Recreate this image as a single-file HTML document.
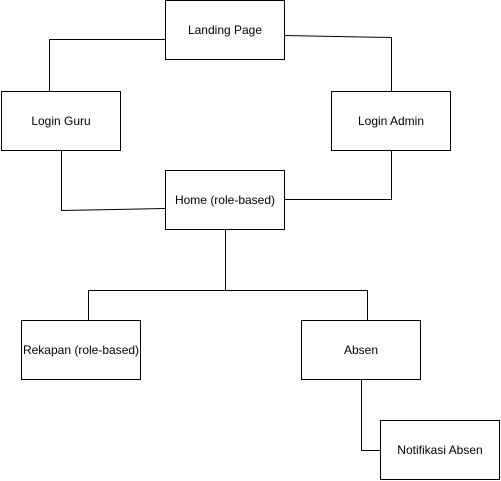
<!DOCTYPE html>
<html><head><style>
body{margin:0;width:501px;height:481px;background:#fff;overflow:hidden}
svg{display:block}
text{font-family:"Liberation Sans",sans-serif;font-size:12px;fill:#000}
</style></head><body>
<svg width="501" height="481" viewBox="0 0 501 481">
<g fill="none" stroke="#000" stroke-width="1">
<polyline points="165.5,39.5 49.5,39.5 49.5,91"/>
<polyline points="284,35.5 391.5,37.5 391.5,91"/>
<polyline points="61.5,151 61.5,210.5 165,208.5"/>
<polyline points="391.5,151 391.5,199.5 285,199.5"/>
<polyline points="225.5,230 225.5,290.5"/>
<polyline points="88.5,320 88.5,290.5 367.5,290.5 367.5,320"/>
<polyline points="361.5,380 361.5,450.5 380,450.5"/>
<rect x="165.5" y="0.5" width="119" height="59" fill="#fff"/>
<rect x="1.5" y="91.5" width="119" height="59" fill="#fff"/>
<rect x="331.5" y="91.5" width="119" height="59" fill="#fff"/>
<rect x="165.5" y="170.5" width="119" height="59" fill="#fff"/>
<rect x="21.5" y="320.5" width="119" height="59" fill="#fff"/>
<rect x="301.5" y="320.5" width="119" height="59" fill="#fff"/>
<rect x="380.5" y="420.5" width="119" height="59" fill="#fff"/>
</g>
<g text-anchor="middle">
<text x="225" y="34">Landing Page</text>
<text x="61" y="125">Login Guru</text>
<text x="391" y="125">Login Admin</text>
<text x="225" y="204">Home (role-based)</text>
<text x="81" y="354">Rekapan (role-based)</text>
<text x="361" y="354">Absen</text>
<text x="440" y="454">Notifikasi Absen</text>
</g>
</svg>
</body></html>
